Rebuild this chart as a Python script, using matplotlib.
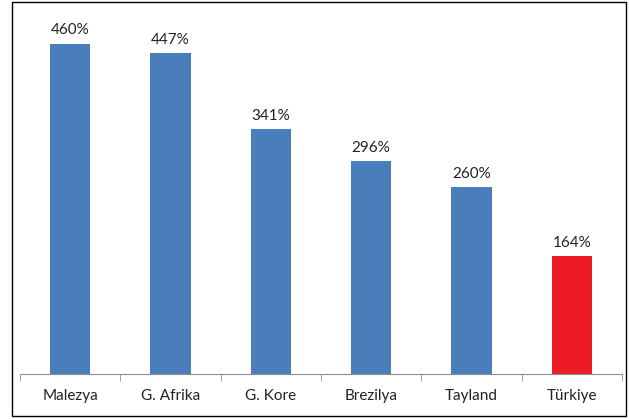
import matplotlib
matplotlib.use("Agg")
import matplotlib.pyplot as plt
from matplotlib.patches import Rectangle

countries = ["Malezya", "G. Afrika", "G. Kore", "Brezilya", "Tayland", "Türkiye"]
values = [460, 447, 341, 296, 260, 164]
colors = ["#4A7EBB"] * 5 + ["#ED1C24"]

plt.rcParams['font.family'] = ['Lato', 'DejaVu Sans']

fig = plt.figure(figsize=(6.29, 4.19), dpi=100)
ax = fig.add_axes([20 / 629, 45 / 419, 602 / 629, 359 / 419])

x = list(range(len(countries)))
ax.bar(x, values, width=0.4, color=colors)
for xi, v in zip(x, values):
    ax.text(xi, v + 9, f"{v}%", ha="center", va="bottom", fontsize=11, color="#222222")

ax.set_xlim(-0.5, len(countries) - 0.5)
ax.set_ylim(0, 500)
for s in ["top", "right", "left"]:
    ax.spines[s].set_visible(False)
ax.spines["bottom"].set_color("#8c8c8c")
ax.set_yticks([])
ax.set_xticks(x)
ax.set_xticklabels(countries, fontsize=11, color="#222222")
ax.tick_params(axis="x", length=0, pad=11)
ax.set_xticks([i - 0.5 for i in range(len(countries) + 1)], minor=True)
ax.tick_params(axis="x", which="minor", length=5, color="#8c8c8c", direction="out")

fig.patches.append(Rectangle((12 / 629, 3 / 419), 614 / 629, 414 / 419,
                             transform=fig.transFigure, fill=False,
                             edgecolor="black", linewidth=1))

fig.savefig("out.png", dpi=100)
